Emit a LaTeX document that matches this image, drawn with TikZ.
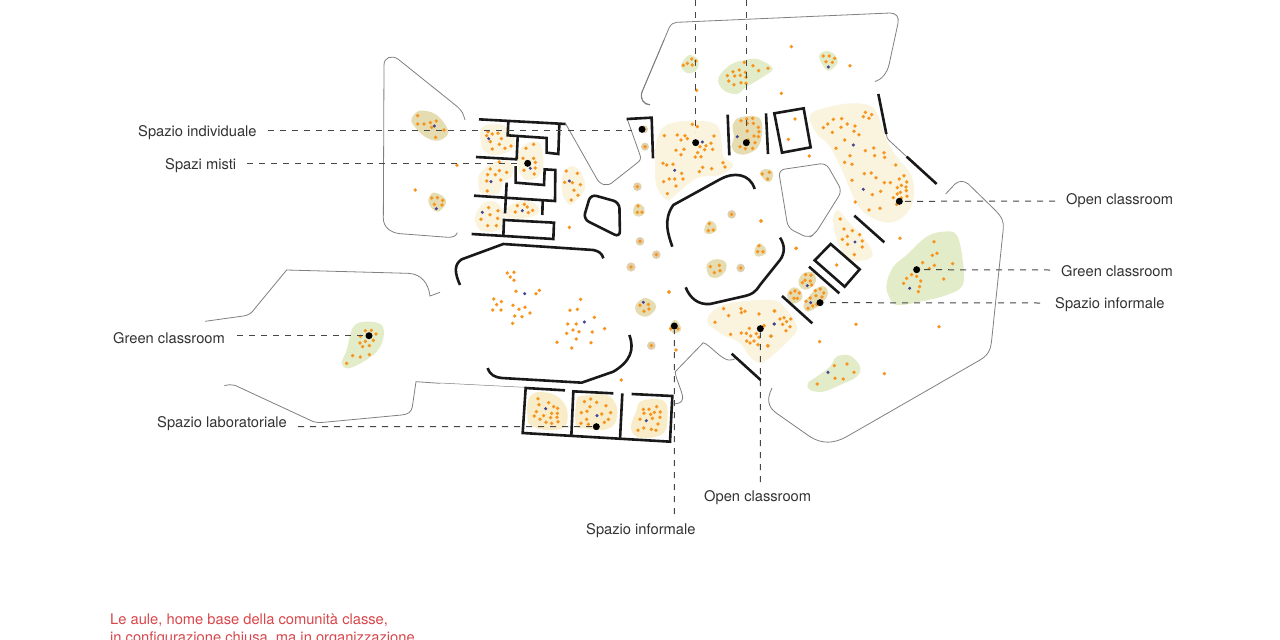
\documentclass[tikz,border=0pt]{standalone}
\usepackage{fontspec}
\setmainfont{TeX Gyre Heros}
\definecolor{cream}{HTML}{FAF3DD}
\definecolor{roomc}{HTML}{F8EDC8}
\definecolor{tan1}{HTML}{E6DCB2}
\definecolor{tan2}{HTML}{E0CFAA}
\definecolor{gren}{HTML}{E3ECC8}
\definecolor{odot}{HTML}{F7941D}
\definecolor{bdotc}{HTML}{46468F}
\definecolor{gline}{HTML}{808080}
\definecolor{redt}{HTML}{D9474C}
\definecolor{labt}{HTML}{333333}
\tikzset{
 z/.style 2 args={shift={(#1,#2)},x=.33333pt,y=-.33333pt},
 wall/.style={line width=2.6pt,black!90,line join=miter,line cap=butt},
 gray line/.style={line width=.8pt,gline,rounded corners=0pt},
 blk/.style={circle,fill=black,inner sep=0pt,minimum size=7pt},
 lab/.style={anchor=west,text=labt,font=\fontsize{14.7}{16}\selectfont,inner sep=0pt},
 leader/.style={line width=1pt,draw=black!72,dash pattern=on 6pt off 6pt},
}
\newcommand\bl[2]{\fill[#1] plot[smooth cycle,tension=.6] coordinates {#2};}
\newcommand\od[1]{\foreach \p in {#1} {\fill[odot] \p circle[radius=1.9pt];}}
\newcommand\bd[1]{\foreach \p in {#1} {\fill[bdotc] \p circle[radius=1.7pt];}}
\newcommand\tn[1]{\foreach \p/\r in {#1} {\fill[tan2] \p circle[radius=\r pt];}}
\begin{document}
\begin{tikzpicture}[x=1pt,y=-1pt]
\useasboundingbox (0,0) rectangle (1280,640);
\fill[white] (0,0) rectangle (1280,640);

% ---------- left upper block
\begin{scope}[z={370}{40}]
\bl{tan1}{(125,235)(150,212)(200,225)(235,275)(205,302)(165,290)(130,255)}
\bl{tan1}{(175,480)(190,458)(220,470)(228,490)(205,515)(185,505)}
\bl{cream}{(333,265)(370,252)(410,262)(435,310)(415,335)(370,345)(340,330)(332,300)}
\bl{cream}{(445,340)(470,310)(510,310)(520,370)(505,410)(470,420)(445,390)}
\bl{cream}{(330,400)(375,365)(425,370)(425,410)(400,425)(385,460)(335,460)(325,430)}
\bl{cream}{(580,400)(605,378)(635,400)(645,445)(620,480)(600,495)(580,470)(575,430)}
\bl{cream}{(315,530)(340,490)(375,485)(395,505)(405,540)(390,570)(350,575)(325,565)}
\bl{cream}{(415,500)(460,482)(500,495)(505,520)(460,535)(410,530)}
\foreach \q in {(822,268),(825,320)} {\fill[tan2] \q circle[radius=4pt];}
\od{(143,227),(143,252),(162,252),(181,248),(199,243),(185,262),(197,292),(222,270),(261,376),(136,450),(598,562),
(185,474),(202,473),(218,481),(193,493),(216,495),
(354,275),(350,287),(367,282),(384,280),(394,296),(361,305),(388,313),(405,325),(367,327),(423,318),
(468,325),(491,313),(459,355),(491,355),(496,367),(496,384),(493,402),(462,391),
(388,366),(361,387),(388,392),(410,397),(353,404),(376,404),(350,423),(392,420),(352,453),
(589,393),(622,400),(584,427),(607,428),(631,434),(612,451),(624,466),(604,480),
(356,503),(360,524),(384,512),(383,535),(333,538),(353,557),(379,557),
(442,497),(463,493),(472,501),(488,511),(436,516),(475,518),(822,268),(825,320)}
\bd{(193,258),(199,506),(356,296),(481,385),(363,425),(598,423),(337,517),(457,512)}
\draw[gray line] (285,240) .. controls (280,222) and (276,212) .. (262,200) -- (85,58) .. controls (65,44) and (42,52) .. (42,75) -- (40,535) .. controls (40,560) and (60,578) .. (90,581) -- (235,592) .. controls (250,592) and (258,588) .. (262,578);
\draw[gray line] (882,0) -- (816,155) .. controls (808,175) and (820,195) .. (840,195);
\draw[gray line] (588,253) -- (678,412) .. controls (690,436) and (712,442) .. (730,425) -- (800,370) .. controls (812,362) and (813,355) .. (810,345) -- (772,238);
\draw[wall] (327,238) -- (587,252);
\draw[wall] (415,245) -- (413,286) -- (530,294) -- (530,338) -- (565,342) -- (568,252);
\draw[wall] (443,290) -- (440,358);
\draw[wall] (318,351) -- (442,358);
\draw[wall] (437,378) -- (437,428) -- (522,435) -- (524,388) -- (556,390) -- (555,483) -- (312,467);
\draw[wall] (410,428) -- (405,520);
\draw[wall] (518,482) -- (517,525);
\draw[wall] (400,587) -- (402,540) -- (552,548) -- (550,597) -- (305,582);
\draw[wall,rounded corners=6pt] (662,463) -- (748,487) -- (750,592) -- (640,537) -- cycle;
\draw[wall] (770,237) -- (845,233) -- (849,355);
\end{scope}

% ---------- upper block
\begin{scope}[z={630}{0}]
\bl{cream}{(80,420)(110,375)(190,362)(260,375)(275,430)(280,470)(310,495)(270,525)(200,535)(130,590)(110,600)(80,560)(75,490)}
\bl{tan1}{(308,375)(330,352)(385,352)(397,390)(385,440)(350,462)(320,460)(305,440)(312,410)}
\bl{gren}{(155,190)(178,165)(205,180)(200,210)(175,220)(155,205)}
\bl{gren}{(265,235)(300,195)(345,180)(385,178)(428,205)(400,230)(350,260)(320,282)(280,270)}
\bl{gren}{(568,165)(590,153)(615,165)(622,190)(595,212)(575,190)}
\bl{cream}{(540,345)(600,320)(680,310)(735,330)(770,420)(800,470)(845,530)(850,600)(820,650)(775,668)(720,650)(680,610)(640,520)(600,440)(560,400)}
\bl{tan1}{(390,520)(405,507)(428,515)(425,540)(410,545)}
\od{(185,177),(172,190),(160,196),(187,195),(197,183),
(343,187),(369,197),(414,205),(386,212),(328,210),(309,215),(346,217),(292,227),(314,228),(331,226),(348,232),(296,243),(333,248),(312,254),(348,250),
(484,140),(660,197),(454,280),(200,271),(538,468),(495,357),(475,418),
(580,168),(598,168),(614,175),(588,185),(607,187),
(187,373),(202,380),(103,407),(142,405),(165,407),(172,416),(153,420),(252,408),(243,430),(228,437),(210,440),(138,451),(162,448),(224,449),(248,448),(203,458),(153,464),(196,471),(213,470),(99,490),(110,495),(129,493),(279,488),(285,501),(218,502),(208,515),(245,506),(155,520),(118,537),(134,537),(159,537),(101,545),(138,558),(112,581),
(333,362),(350,357),(368,355),(352,370),(370,370),(385,382),(387,395),(352,393),(372,408),(385,410),(355,420),(375,428),(330,440),(346,446),(368,445),
(397,522),(418,517),(413,537),
(706,337),(725,344),(700,350),(717,355),(610,358),(635,356),(593,372),(652,372),(675,378),(580,383),(633,382),(607,397),(672,394),(687,404),(644,420),(618,445),(706,452),(731,444),(660,467),(762,458),(734,467),(764,472),(644,487),(666,493),(797,495),(703,521),(724,519),(738,533),(822,527),(808,537),(830,546),(763,548),(781,548),(814,556),(802,563),(666,541),(828,561),(811,577),(829,572),(752,574),(727,584),(802,582),(790,593),(831,589),(814,594),(676,606),(800,613),(750,625),(717,630)}
\bd{(595,201),(134,511),(217,426),(322,410),(670,435),(700,568)}
\draw[gray line] (60,314) .. controls (40,312) and (28,295) .. (38,272) -- (118,82) .. controls (124,72) and (130,68) .. (140,67) -- (780,39) .. controls (798,39) and (808,50) .. (804,70) -- (778,190) .. controls (772,220) and (755,238) .. (735,245);
\draw[gray line] (769,402) .. controls (770,412) and (772,416) .. (776,420) -- (830,470);
\draw[wall] (293,344) -- (298,466);
\draw[wall] (408,340) -- (414,462);
\draw[wall,line join=miter] (433,340) -- (521,325) -- (542,442) -- (456,458) -- cycle;
\draw[wall] (745,282) -- (769,402);
\draw[wall] (830,470) -- (920,552);
\end{scope}

% ---------- central pentagon
\draw[gray line,rounded corners=6pt] (778.5,170) -- (788,228) -- (808,238) -- (815,234) -- (842,191) -- (826,163) -- cycle;

% ---------- right block
\begin{scope}[z={760}{170}]
\bl{gren}{(380,340)(400,290)(440,255)(500,200)(550,185)(590,195)(608,270)(608,345)(560,375)(480,395)(410,405)(385,375)}
\bl{gren}{(143,640)(170,620)(210,590)(230,560)(270,557)(300,590)(290,620)(240,645)(190,665)(150,660)}
\bl{cream}{(220,140)(235,120)(260,150)(300,190)(335,240)(330,265)(280,272)(250,250)(225,190)}
\bl{tan1}{(115,335)(130,310)(160,308)(167,335)(145,358)(125,355)}
\bl{tan1}{(82,370)(100,352)(120,360)(127,385)(105,400)(88,395)}
\bl{tan1}{(135,395)(170,355)(195,350)(203,375)(180,405)(145,425)(132,415)}
\od{(420,205),(109,235),(230,285),(288,463),(537,470),(179,515),(373,611),(3,153),
(241,147),(252,177),(277,182),(299,194),(262,199),(247,208),(307,213),(263,223),(307,231),(283,254),
(522,215),(531,250),(517,256),(488,278),(578,281),(523,286),(508,296),(455,314),(470,319),(440,325),(482,333),(431,340),(551,327),(479,350),(475,365),
(223,587),(261,582),(282,607),(225,625),(250,627),(172,642),
(137,314),(153,316),(135,331),(127,338),(151,333),(155,345),
(92,369),(105,363),(118,369),(102,385),(112,385),
(166,362),(181,357),(191,369),(151,384),(186,381),(168,377),(138,394),(144,415),(158,408),(170,403)}
\bd{(285,216),(449,355),(204,607),(142,347),(152,398)}
\draw[gray line] (557,72) -- (585,42) .. controls (600,30) and (612,33) .. (625,42) -- (705,120) .. controls (725,140) and (732,155) .. (730,175) -- (695,510) .. controls (692,540) and (685,555) .. (660,570) -- (260,800) .. controls (220,822) and (185,822) .. (150,800) -- (50,730) .. controls (25,712) and (18,690) .. (36,654);
\draw[wall] (283,137) -- (373,217);
\draw[wall] (212,222) -- (299,298) -- (254,350) -- (164,271) -- cycle;
\draw[wall] (147,290) -- (238,370);
\draw[wall] (66,378) -- (157,460);
\end{scope}

% ---------- centre
\begin{scope}[z={620}{170}]
\bl{tan1}{(42,110)(55,100)(72,112)(72,132)(55,140)(40,130)}
\bl{tan1}{(255,170)(268,152)(285,160)(290,180)(270,192)(254,187)}
\bl{tan1}{(405,235)(418,220)(435,232)(438,250)(415,260)(404,252)}
\bl{tan1}{(260,285)(285,268)(315,275)(318,300)(295,322)(268,318)}
\bl{tan1}{(47,405)(75,384)(105,400)(105,420)(80,440)(52,430)}
\bl{tan1}{(150,465)(165,450)(180,465)(182,482)(165,490)(150,482)}
\tn{(52,50)/4.3,(60,214)/4.3,(109,254)/4.3,(33,291)/4.6,(335,133)/4.3,(362,294)/4.3}
\od{(52,50),(54,108),(52,127),(66,127),(60,214),(109,254),(33,291),(60,406),(85,403),(87,417),(72,424),(174,476),(152,476),(147,366),(335,133),(268,161),(265,182),(280,180),(423,153),(271,290),(298,286),(300,302),(283,308),(362,294),(417,227),(413,245),(429,245),(528,235)}
\bd{(70,397)}
\draw[wall,line cap=butt] (157,230) .. controls (145,195) and (128,150) .. (160,105) -- (300,28) .. controls (340,5) and (390,10) .. (404,57);
\draw[wall] (480,203) .. controls (495,225) and (495,250) .. (480,270) -- (420,345) .. controls (405,368) and (395,373) .. (375,378) -- (270,402) .. controls (235,405) and (210,385) .. (197,352);
\end{scope}

% ---------- cream lower cluster and west block
\bl{cream}{(707,320)(723,305)(760,300)(780,303)(797,327)(787,342)(767,360)(760,363)(750,357)(740,343)(720,333)}
\begin{scope}[z={760}{170}]
\od{(43,423),(72,443),(92,447),(60,447),(80,455),(68,463),(90,470),(78,482),(33,498),(23,527),(12,467)}
\bd{(42,462)}
\end{scope}
\begin{scope}[z={440}{230}]
\bl{roomc}{(265,510)(290,487)(345,495)(380,535)(375,590)(320,600)(270,585)(262,555)}
\bl{roomc}{(410,510)(430,497)(500,495)(530,530)(525,580)(490,600)(440,595)(408,585)}
\bl{roomc}{(600,515)(650,507)(680,525)(677,600)(640,622)(590,620)(573,590)(590,540)}
\fill[tan2] (634,347) circle[radius=4.3pt];
\od{(634,347),(544,450),(708,360),(687,186),
(851,236),(903,236),(915,244),(904,248),(866,257),(957,252),(1004,243),(825,277),(928,295),(972,287),(904,309),(919,310),(872,313),(949,311),(932,318),(957,322),(993,319),(920,333),(942,333),(930,339),(954,344),(984,348),
(202,129),(222,127),(211,141),(222,151),(228,184),(288,191),(298,181),(161,207),(184,215),(170,224),(158,240),(183,240),(219,226),(237,238),(255,232),(270,249),(224,258),(246,260),(218,280),
(422,208),(390,241),(412,238),(463,262),(383,282),(409,282),(494,296),(399,300),(417,305),(380,310),(457,306),(409,327),(351,337),(453,338),(395,354),
(294,506),(326,518),(341,530),(353,535),(289,545),(297,524),(335,550),(352,550),(311,557),(283,558),(300,568),(332,563),(351,562),(318,577),(335,580),(354,575),
(452,507),(433,515),(470,517),(450,530),(498,527),(441,544),(424,548),(485,552),(512,548),(505,568),(423,580),(440,568),(493,577),(445,583),
(650,530),(610,538),(627,538),(643,547),(661,546),(612,550),(632,553),(600,568),(637,565),(660,562),(654,582),(611,594),(594,601),(634,598),(648,601)}
\bd{(1003,282),(254,191),(433,276),(317,536),(471,557),(619,572)}
\draw[gray line,line width=.5pt] (0,459) -- (255,472);
\draw[gray line] (790,338) -- (706,425) .. controls (704,440) and (730,490) .. (728,505) .. controls (726,520) and (715,520) .. (700,522);
\draw[gray line] (790,338) .. controls (810,345) and (840,385) .. (865,390) .. controls (875,391) and (882,389) .. (888,385);
\draw[wall] (60,165) .. controls (45,130) and (40,105) .. (65,88) -- (190,42) -- (460,60) .. controls (475,63) and (487,70) .. (490,85);
\draw[wall] (143,414) .. controls (150,435) and (165,442) .. (185,444) -- (425,458) -- (520,425) .. controls (570,395) and (585,360) .. (568,315);
\draw[wall] (375,481) -- (257,474) -- (248,609) -- (690,635) -- (697,498) -- (575,492);
\draw[wall] (520,490) -- (400,484) -- (394,618);
\draw[wall] (547,490) -- (540,628);
\draw[wall] (875,371) -- (962,450);
\end{scope}

% ---------- west wing
\begin{scope}[z={100}{260}]
\bl{gren}{(725,310)(740,270)(760,200)(800,185)(845,195)(850,235)(830,275)(790,305)(745,325)}
\od{(796,212),(814,211),(828,222),(781,229),(820,241),(796,244),(780,249),(808,257),(788,260),(758,287),(781,291),(808,284),(740,310)}
\draw[gray line] (1020,97) -- (990,108) .. controls (985,70) and (965,42) .. (925,40) -- (560,30) -- (465,145) .. controls (455,160) and (445,166) .. (430,168) -- (315,184);
\draw[gray line] (373,377) .. controls (385,374) and (395,373) .. (405,376) -- (640,485) .. controls (650,488) and (660,488) .. (670,487) -- (905,465) .. controls (925,463) and (935,455) .. (937,440) -- (948,365) -- (1020,370);
\end{scope}

% ---------- marker dots
\begin{scope}[z={370}{40}]
\node[blk] (di) at (816,268) {};
\node[blk] (dm) at (473,370) {};
\end{scope}
\begin{scope}[z={630}{0}]
\node[blk] (dt1) at (197,428) {};
\node[blk] (dt2) at (349,428) {};
\node[blk] (dor) at (808,604) {};
\end{scope}
\begin{scope}[z={760}{170}]
\node[blk] (dgr) at (470,299) {};
\node[blk] (dir) at (180,398) {};
\end{scope}
\begin{scope}[z={440}{230}]
\node[blk] (dob) at (961,296) {};
\node[blk] (dlab) at (469,590) {};
\node[blk] (dib) at (703,288) {};
\end{scope}
\node[blk] (dgl) at (369,335.7) {};

% ---------- labels
\node[lab] (l1) at (138,132.5) {Spazio individuale};
\node[lab] (l2) at (165,165.5) {Spazi misti};
\node[lab] (l3) at (1066,200.5) {Open classroom};
\node[lab] (l4) at (1061,271) {Green classroom};
\node[lab] (l5) at (1055,304.5) {Spazio informale};
\node[lab] (l6) at (113,338) {Green classroom};
\node[lab] (l7) at (157,423.5) {Spazio laboratoriale};
\node[lab] (l8) at (704,497.5) {Open classroom};
\node[lab] (l9) at (586,530.5) {Spazio informale};

% ---------- leaders
\coordinate (s1) at (268,130);
\coordinate (e1) at (632,130);
\coordinate (s2) at (247,163.4);
\coordinate (e2) at (522,163.4);
\coordinate (s3) at (1055,201);
\coordinate (s4) at (1050,270);
\coordinate (s5) at (1040,303);
\coordinate (s6) at (237,335.7);
\coordinate (s7) at (298,426.5);
\coordinate (s8) at (760.3,482);
\coordinate (s9) at (674.3,514);
\coordinate (t1) at (695.7,0);
\coordinate (t1e) at (695.7,132);
\coordinate (t2) at (746.3,0);
\coordinate (t2e) at (746.3,132);
\draw[leader] (s1) -- (e1);
\draw[leader] (s2) -- (e2);
\draw[leader] (s3) -- (dor);
\draw[leader] (s4) -- (dgr);
\draw[leader] (s5) -- (dir);
\draw[leader] (s6) -- (dgl);
\draw[leader] (s7) -- (dlab);
\draw[leader] (s8) -- (dob);
\draw[leader] (s9) -- (dib);
\draw[leader] (t1) -- (t1e);
\draw[leader] (t2) -- (t2e);

% ---------- red text (runs off the page)
\node[anchor=base west,text=redt,font=\fontsize{14.7}{16}\selectfont,inner sep=0pt] (r1) at (110,624) {Le aule, home base della comunità classe,};
\node[anchor=base west,text=redt,font=\fontsize{14.7}{16}\selectfont,inner sep=0pt] (r2) at (110,642) {in configurazione chiusa, ma in organizzazione};
\end{tikzpicture}
\end{document}
